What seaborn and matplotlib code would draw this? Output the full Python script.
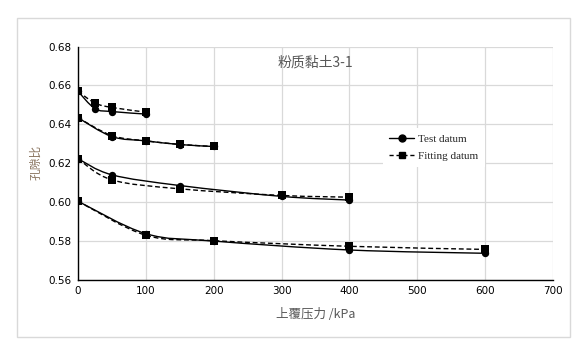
import numpy as np
import pandas as pd
import matplotlib
matplotlib.use("Agg")
import matplotlib.pyplot as plt
from matplotlib.path import Path
from matplotlib.patches import PathPatch, Rectangle
from matplotlib.lines import Line2D
import seaborn as sns

# ---- data ----
p1 = [0, 25, 50, 100]
e1_test = [0.6569, 0.6480, 0.6465, 0.6452]
e1_fit = [0.6569, 0.6509, 0.6486, 0.6462]
p2 = [0, 50, 100, 150, 200]
e2_test = [0.6433, 0.6336, 0.6314, 0.6295, 0.6285]
e2_fit = [0.6433, 0.6341, 0.6314, 0.6296, 0.6285]
p3 = [0, 50, 150, 300, 400]
e3_test = [0.6222, 0.6139, 0.6084, 0.6028, 0.6009]
e3_fit = [0.6222, 0.6113, 0.6067, 0.6033, 0.6024]
p4 = [0, 100, 200, 400, 600]
e4_test = [0.6003, 0.5836, 0.5798, 0.5752, 0.5735]
e4_fit = [0.6003, 0.5828, 0.5800, 0.5771, 0.5755]

x_ticks = [0, 100, 200, 300, 400, 500, 600, 700]
y_ticks = [0.56, 0.58, 0.60, 0.62, 0.64, 0.66, 0.68]
title = "粉质黏土3-1"
xlabel = "上覆压力 /kPa"
ylabel = "孔隙比"
legend_labels = ["Test datum", "Fitting datum"]

series = [(p1, e1_test, e1_fit), (p2, e2_test, e2_fit),
          (p3, e3_test, e3_fit), (p4, e4_test, e4_fit)]

rows = []
for i, (p, t, f) in enumerate(series):
    for x, yt, yf in zip(p, t, f):
        rows.append({"s": i, "p": x, "e": yt, "kind": "test"})
        rows.append({"s": i, "p": x, "e": yf, "kind": "fit"})
df = pd.DataFrame(rows)

# ---- style ----
sns.set_style("white")
plt.rcParams['font.family'] = ['Noto Sans CJK SC', 'DejaVu Sans']

fig = plt.figure(figsize=(5.88, 3.55), dpi=100)
ax = fig.add_axes([78 / 588, 1 - 279.5 / 355, (553 - 78) / 588, (279.5 - 46.5) / 355])

# outer chart border
fig.patches.append(Rectangle((16.5 / 588, 1 - 337 / 355), (570 - 16.5) / 588,
                             (337 - 17.5) / 355, transform=fig.transFigure,
                             fill=False, edgecolor="#d9d9d9", linewidth=1.0))


def smooth_path(xs, ys):
    """Excel-like smoothed line (Catmull-Rom as cubic Bezier)."""
    pts = np.column_stack([xs, ys]).astype(float)
    n = len(pts)
    verts = [pts[0]]
    codes = [Path.MOVETO]
    for i in range(n - 1):
        p0 = pts[i - 1] if i > 0 else pts[i]
        p1_ = pts[i]
        p2_ = pts[i + 1]
        p3_ = pts[i + 2] if i + 2 < n else pts[i + 1]
        c1 = p1_ + (p2_ - p0) / 6.0
        c2 = p2_ - (p3_ - p1_) / 6.0
        verts += [c1, c2, p2_]
        codes += [Path.CURVE4] * 3
    return Path(verts, codes)


for i in range(len(series)):
    sub = df[df.s == i]
    t = sub[sub.kind == "test"]
    f = sub[sub.kind == "fit"]
    ax.add_patch(PathPatch(smooth_path(t.p.values, t.e.values), fill=False,
                           edgecolor="black", linewidth=1.0, zorder=3))
    ax.add_patch(PathPatch(smooth_path(f.p.values, f.e.values), fill=False,
                           edgecolor="black", linewidth=1.0, linestyle=(0, (3.5, 2)),
                           zorder=3))
    sns.scatterplot(data=t, x="p", y="e", marker="o", color="black", s=28,
                    edgecolor="black", linewidth=0, ax=ax, zorder=4, legend=False)
    sns.scatterplot(data=f, x="p", y="e", marker="s", color="black", s=26,
                    edgecolor="black", linewidth=0, ax=ax, zorder=4, legend=False)

ax.set_xlim(0, 700)
ax.set_ylim(0.56, 0.68)
ax.set_xticks(x_ticks)
ax.set_yticks(y_ticks)
ax.set_xticklabels([str(v) for v in x_ticks], fontsize=7.5, family="DejaVu Sans")
ax.set_yticklabels([f"{v:.2f}" for v in y_ticks], fontsize=7.5, family="DejaVu Sans")
ax.tick_params(axis="both", length=0, pad=5, colors="black")
ax.grid(True, color="#d9d9d9", linewidth=0.9)
ax.set_axisbelow(True)
for s in ["top", "right"]:
    ax.spines[s].set_visible(False)
for s in ["left", "bottom"]:
    ax.spines[s].set_color("black")
    ax.spines[s].set_linewidth(1.0)

ax.set_xlabel("")
ax.set_ylabel("")
fig.text(316 / 588, 1 - 314 / 355, xlabel, ha="center", va="center", fontsize=9,
         color="#595959", family=["Noto Sans CJK SC", "DejaVu Sans"])
fig.text(36 / 588, 1 - 162 / 355, ylabel, ha="center", va="center", fontsize=8.5,
         rotation=90, color="#8a7560", family=["Noto Sans CJK SC", "DejaVu Sans"])
ax.text(350, 0.6715, title, ha="center", va="center", fontsize=10, color="#595959",
        family=["Noto Sans CJK SC", "DejaVu Sans"])

handles = [Line2D([], [], color="black", linewidth=1.0, marker="o", markersize=5),
           Line2D([], [], color="black", linewidth=1.0, linestyle=(0, (3, 2)),
                  marker="s", markersize=5)]
leg = ax.legend(handles, legend_labels, loc="center left", bbox_to_anchor=(0.63, 0.567),
                frameon=True, fancybox=False, framealpha=1, edgecolor="white",
                facecolor="white", prop={"family": "Liberation Serif", "size": 8},
                handlelength=2.2, handletextpad=0.4, labelspacing=0.6,
                borderpad=0.6)
leg.get_frame().set_linewidth(0)

fig.savefig("out.png", dpi=100)
